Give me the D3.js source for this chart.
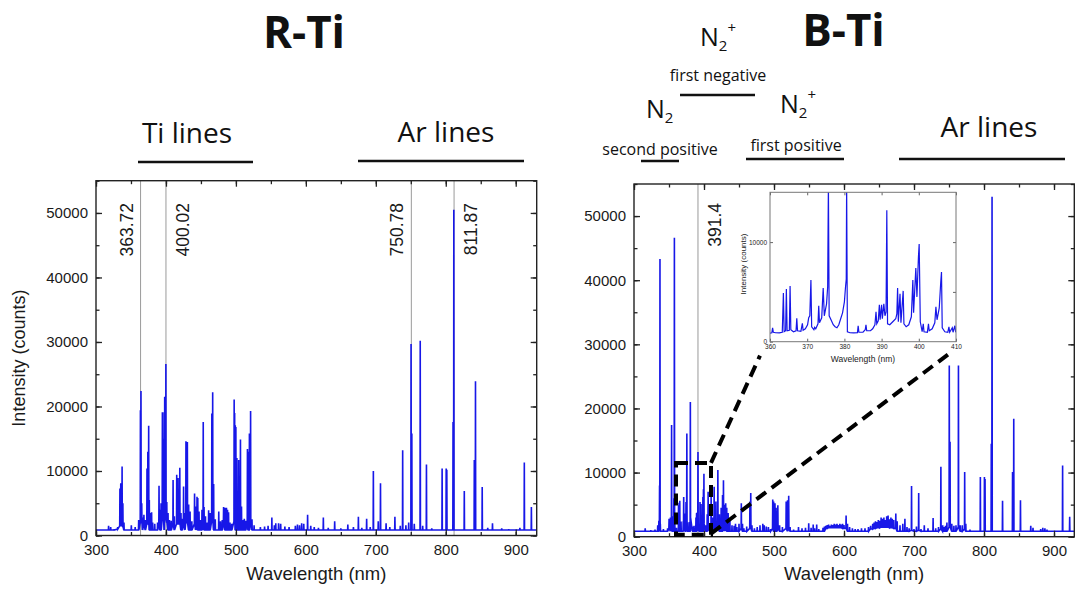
<!DOCTYPE html>
<html>
<head>
<meta charset="utf-8">
<script src="https://cdnjs.cloudflare.com/ajax/libs/d3/7.8.5/d3.min.js"></script>
<style>
  body { margin: 0; background: #fff; }
  svg text { font-family: "Liberation Sans", Arial, sans-serif; fill: #1a1a1a; }
  svg text.slide { font-family: "Open Sans", sans-serif; fill: #111; }
</style>
</head>
<body>
<svg id="chart" width="1076" height="592"></svg>
<script>
// ---- data ----
const baseLevel = 850;

// R-Ti spectrum: [wavelength nm, counts, optional local background]
const rtiPeaks = [
  [318, 1500], [321, 1300], [326, 1000], [331, 1300, 1000],
  [334.2, 7300, 1500], [335.4, 8100, 1500], [336.1, 7900, 1500], [337.3, 10700, 1500], [338.4, 5000, 1400], [340, 2000],
  [350.5, 1600], [356, 1300],
  [361, 2400], [363.5, 19400, 2000], [364.3, 22400, 2000], [365.4, 5000, 2000], [366.5, 2800], [368.5, 3200, 1800], [370.5, 2400],
  [372.9, 10400, 1800], [374.1, 13000, 1800], [375.3, 17000, 1800], [376.2, 5500], [378, 3500], [379.5, 3600], [381, 2000],
  [384, 1800], [388, 2000], [390.1, 7700, 2000], [391.5, 4000], [393, 5000], [394.9, 19100, 2500], [395.6, 19100, 2500],
  [396.4, 15000, 2500], [397.5, 9000], [398.2, 21500, 2500], [399.2, 12000, 2500], [399.9, 26600, 2500], [401.2, 5200, 2000],
  [403, 3500], [405, 2400], [407.5, 2300],
  [410.2, 8600, 1800], [412, 3000], [415.4, 9400, 1800], [417.3, 8900, 1800], [419.8, 10500, 1800], [421.5, 3500], [423, 2600],
  [425.2, 7600, 1800], [427, 3500], [428.6, 14600, 2000], [430.6, 14500, 2000], [432.5, 4800], [434.5, 3700], [437, 2200],
  [440.9, 6500, 1800], [442.5, 4500], [444.4, 6000, 1800], [445.5, 5800], [447.3, 3700], [449.5, 2400], [451.5, 4000],
  [453.3, 17600, 2200], [454.5, 4400], [456.5, 3000], [459, 2000], [461, 3900], [463, 3500],
  [465.6, 18900, 2200], [466.8, 22200, 2200], [468.2, 8000], [470.5, 2500], [475.5, 3700], [478, 2200], [480.5, 2400],
  [482.4, 4400, 2000], [484.5, 4300], [486.5, 4300], [488, 4000], [489.5, 3600], [491.5, 2000], [494, 1800],
  [497.5, 21100, 2200], [498.2, 19000, 2200], [499.1, 17100], [499.95, 16800], [501.4, 12000], [503.99, 11700], [505.0, 9000],
  [506.5, 14900], [508, 4500], [510.5, 2400], [512, 2600], [514, 2300], [516.5, 13400, 2200], [517.4, 13000], [519.3, 15800],
  [521.0, 19300, 2200], [523, 2500], [526, 1600],
  [535, 1300], [541, 1400], [546, 1500], [551.4, 2800], [555, 1600], [557, 1900], [561, 1900], [564, 1800], [570, 1400],
  [576, 1300], [585, 1500], [588, 1700], [591, 1600], [594, 1900], [597, 1800], [602.5, 3200], [607, 1500], [612, 1300],
  [618, 1200], [625, 2800], [632, 1200], [641.2, 2200], [650, 1100], [660, 1700], [668, 1300], [675.1, 2900], [680, 1200],
  [686.9, 2600], [692, 1300],
  [696.5, 10000], [703.5, 2200], [706.7, 8100], [714.7, 1900], [720, 1300], [727.3, 2900], [735, 1500], [738.4, 13200],
  [743, 1600], [747, 2000], [750.4, 29700], [751.5, 15800], [755, 1800], [763.5, 30200], [767, 1500], [772.4, 11000],
  [780, 1100], [794.8, 10400], [800.6, 10400], [801.5, 10200], [810.4, 17600], [811.5, 50500], [826.5, 6900],
  [840.8, 11700], [842.5, 23900], [852.1, 7500], [860, 1200], [866.8, 1900], [880, 1100], [890, 1000], [906, 1200],
  [912.3, 11300], [922.4, 4400]
];

// B-Ti spectrum
const btiPeaks = [
  [316, 1300], [324, 1000], [330, 1100], [333.9, 1800], [335.5, 2500], [336.5, 8000, 1500], [337.1, 43300, 1500], [337.6, 2000],
  [342, 1200], [348, 1300], [350.1, 2800, 1300], [352, 3000], [353.7, 17400, 1800], [354.3, 2500], [355.5, 3200],
  [356.9, 6000], [357.7, 46600, 2000], [358.3, 2000],
  [360.7, 1400], [363.6, 4900], [364.4, 5300], [365.4, 5600], [367.2, 2350], [370.3, 2400], [371.0, 6200, 1500],
  [373.1, 3600], [374.3, 5400], [375.5, 16100, 2500], [376.4, 2200], [379, 2300], [380.4, 6000], [380.5, 21000, 3000],
  [383.7, 1600], [385.8, 1700], [388.5, 3000], [389.4, 3700], [390, 3700], [390.6, 3800], [391.4, 13200, 2000], [393, 2000],
  [394.3, 5400], [394.9, 4800], [395.8, 5100], [398.4, 6200], [399.2, 7400], [399.9, 9800, 2000], [402.6, 1800],
  [404.6, 3500], [405.9, 7000, 1500], [408, 1500],
  [410.2, 6500, 1500], [412, 3000], [414.5, 7800, 1500], [417, 5500], [419.8, 10400, 1800], [422, 3500], [424.5, 4500],
  [426.5, 6500], [427.8, 8800, 2000], [429.5, 5000], [431, 5200, 1800], [432.5, 4500], [434.5, 3700], [437, 2500],
  [440, 1800], [443, 1700], [445, 2000], [447, 1500], [450, 2000], [453.3, 5200, 1300], [455, 2000], [457, 1300],
  [461, 1600], [465.6, 5500, 1300], [466.8, 6800, 1300], [468.5, 1800], [472, 1300], [476, 1500], [480, 1800],
  [484, 2000], [486, 1800], [489, 1600], [492, 1500], [495, 1200],
  [498.2, 5800, 1300], [499.5, 5500], [501.4, 5200], [503, 4500], [504, 4000], [505.5, 4900, 1300], [508, 1800],
  [512, 1500], [517.4, 5500, 1300], [519.3, 5700], [521, 6400, 1300], [523, 1500], [528, 1100],
  [535, 1500], [540, 1300], [545, 1400], [549.6, 2100], [553, 1400], [556, 1900], [558, 1300], [561, 1900], [564, 1200],
  [570, 1400], [572, 1600], [574, 1700, 1300], [576, 1800, 1300], [578, 1900, 1400], [580, 1700, 1400], [582, 1900, 1400],
  [584, 1800, 1400], [586, 2000, 1400], [588, 1900, 1400], [590, 2000, 1400], [592, 1800, 1400], [594, 2000, 1400],
  [596, 1900, 1400], [598, 2000, 1300], [600, 1800, 1300], [603, 3300, 1300], [605, 2000], [608, 1500], [612, 1300],
  [616, 1200], [620, 1200], [625, 1300], [630, 1300], [635, 1500], [638, 1700, 1200], [641, 2000, 1200], [643, 2200, 1300],
  [645, 2400, 1300], [647, 2300, 1400], [649, 2600, 1400], [651, 2500, 1400], [653, 3000, 1500], [655, 2800, 1500],
  [657, 3000, 1500], [659, 2600, 1500], [661, 3200, 1500], [663, 3300, 1500], [665, 2700, 1400], [667, 3000, 1400],
  [669, 2800, 1400], [671, 2600, 1300], [674, 3600, 1300], [676, 2400], [680, 1800], [684, 2000], [687, 2800],
  [690, 1500], [693, 1300],
  [696.5, 7900, 1000], [700, 1200], [703.5, 1600], [706.7, 6800, 1000], [710, 1200], [714.7, 1800], [720, 1300],
  [727.3, 2900], [731, 1300], [735, 1500], [738.4, 10900, 1200], [741, 1800], [743, 1500], [745, 1700], [747, 2200],
  [750.4, 26700, 1500], [751.5, 14800, 1500], [754, 2000], [757, 1700], [760, 1800], [763.5, 26700, 1500], [766, 1800],
  [769, 1800], [772.4, 10100, 1200], [774, 2000], [780, 1100],
  [794.8, 9300], [800.6, 9300], [801.5, 9000], [810.4, 14500], [811.5, 53000], [826.5, 5600], [840.8, 10100],
  [842.5, 18400], [852.1, 5700], [866.8, 1700], [870, 1400], [881, 1200], [884, 1400], [887, 1300], [890, 1100],
  [912.3, 11100], [922.4, 3100]
];

// zoomed 360-410 nm part of B-Ti (inset), traced as a polyline
const insetSpectrum = [
  [360, 850], [360.5, 900], [360.7, 1400], [360.9, 950], [361.5, 900], [362.5, 880], [363.3, 950], [363.6, 4900],
  [363.8, 1000], [364.2, 1100], [364.4, 5300], [364.6, 1100], [365.2, 1150], [365.4, 5600], [365.6, 1200], [366.3, 1000],
  [367, 1100], [367.2, 2350], [367.4, 1100], [368.3, 1050], [368.7, 1850], [368.9, 1150], [369.5, 1300], [370.1, 1700],
  [370.4, 2400], [370.7, 2600], [371.0, 6200], [371.2, 1500], [371.8, 1200], [372.0, 1450], [372.3, 1300], [372.9, 1800],
  [373.1, 3600], [373.3, 1900], [373.9, 2400], [374.3, 5400], [374.6, 2600], [375.2, 3800], [375.5, 5500], [375.7, 16000],
  [375.9, 2600], [376.4, 2200], [377, 1700], [377.5, 1500], [378, 1400], [378.5, 1700], [379, 2300], [379.5, 2900],
  [380, 4000], [380.3, 5500], [380.5, 6300], [380.6, 16000], [380.8, 1000], [381.5, 900], [382.5, 880], [383.5, 900],
  [383.7, 1600], [383.9, 950], [385, 950], [385.6, 1200], [385.8, 1700], [386, 1100], [387, 1100], [387.6, 1300],
  [388.2, 1700], [388.5, 3000], [388.7, 1800], [389.1, 2100], [389.4, 3700], [389.6, 2200], [390, 3700], [390.2, 2300],
  [390.6, 3800], [390.9, 2600], [391.2, 3000], [391.4, 13200], [391.6, 1800], [392.2, 1700], [393, 2000], [393.8, 2300],
  [394.1, 2800], [394.3, 5400], [394.5, 2000], [394.95, 4800], [395.2, 1900], [395.8, 5100], [396, 1800], [396.6, 1500],
  [397.3, 1700], [398, 2500], [398.4, 6200], [398.6, 2900], [399.2, 7400], [399.5, 4500], [399.9, 8500], [400.1, 9800],
  [400.4, 2000], [400.9, 1000], [401.2, 1800], [401.4, 1000], [402.3, 950], [402.6, 1800], [402.8, 1100], [403.6, 1300],
  [404.3, 1900], [404.6, 3500], [404.9, 2200], [405.5, 3400], [405.9, 6000], [406.1, 7000], [406.3, 1400], [407, 1000],
  [407.8, 950], [408.1, 1500], [408.3, 950], [409, 1400], [409.2, 950], [409.7, 1600], [409.9, 1000], [410, 950]
];

const rtiMarkers = [363.72, 400.02, 750.78, 811.87];
const rtiMarkerSide = [-1, 1, -1, 1];
const btiMarkers = [391.4];
const btiMarkerSide = [1];

const xTicks = [300, 400, 500, 600, 700, 800, 900];
const yTicks = [0, 10000, 20000, 30000, 40000, 50000];
const insetXTicks = [360, 370, 380, 390, 400, 410];
const insetYTicks = [0, 10000];
const zoomRange = [360, 410];
const zoomTop = 11500;

const blue = "#1717e8";
const svg = d3.select("#chart");
const fmt = d3.format("d");

function spikeLine(peaks, domain) {
  const pts = [[domain[0], baseLevel]];
  [...peaks].sort((a, b) => a[0] - b[0]).forEach(p => {
    const b = p[2] || baseLevel;
    pts.push([p[0] - 0.3, b], [p[0], p[1]], [p[0] + 0.3, b]);
  });
  pts.push([domain[1], baseLevel]);
  return pts;
}

function drawPanel(cfg) {
  const x = d3.scaleLinear().domain(cfg.xDomain).range([cfg.left, cfg.right]);
  const y = d3.scaleLinear().domain([0, 55000]).range([cfg.bottom, cfg.top]);
  const g = svg.append("g");

  g.append("clipPath").attr("id", cfg.id + "-clip")
    .append("rect").attr("x", cfg.left).attr("y", cfg.top)
    .attr("width", cfg.right - cfg.left).attr("height", cfg.bottom - cfg.top);

  // marker lines
  g.selectAll(".marker").data(cfg.markers).enter().append("line")
    .attr("x1", d => x(d)).attr("x2", d => x(d))
    .attr("y1", cfg.top).attr("y2", cfg.bottom)
    .attr("stroke", "#9a9a9a").attr("stroke-width", 1);

  const line = d3.line().x(d => x(d[0])).y(d => y(d[1]));
  g.append("path")
    .datum(spikeLine(cfg.peaks, cfg.xDomain))
    .attr("clip-path", `url(#${cfg.id}-clip)`)
    .attr("d", line)
    .attr("fill", "none").attr("stroke", blue).attr("stroke-width", 1.6);

  g.selectAll(".mlabel").data(cfg.markers).enter().append("text")
    .attr("transform", (d, i) => {
      const bx = cfg.sides[i] < 0 ? x(d) - 8 : x(d) + 23;
      return `translate(${bx},203) rotate(-90)`;
    })
    .attr("text-anchor", "end")
    .attr("font-size", 17.5)
    .text(d => d);

  // axes, ticks pointing inward on all four sides
  const minorX = d3.range(cfg.xDomain[0], cfg.xDomain[1], 50);
  const minorY = d3.range(0, 55001, 5000);
  const axes = [
    [d3.axisBottom(x).tickValues(xTicks).tickSize(-6).tickPadding(9).tickFormat(fmt), `translate(0,${cfg.bottom})`],
    [d3.axisBottom(x).tickValues(minorX).tickSize(-3.5).tickFormat(""), `translate(0,${cfg.bottom})`],
    [d3.axisTop(x).tickValues(xTicks).tickSize(-6).tickFormat(""), `translate(0,${cfg.top})`],
    [d3.axisTop(x).tickValues(minorX).tickSize(-3.5).tickFormat(""), `translate(0,${cfg.top})`],
    [d3.axisLeft(y).tickValues(yTicks).tickSize(-6).tickPadding(8).tickFormat(fmt), `translate(${cfg.left},0)`],
    [d3.axisLeft(y).tickValues(minorY).tickSize(-3.5).tickFormat(""), `translate(${cfg.left},0)`],
    [d3.axisRight(y).tickValues(yTicks).tickSize(-6).tickFormat(""), `translate(${cfg.right},0)`],
    [d3.axisRight(y).tickValues(minorY).tickSize(-3.5).tickFormat(""), `translate(${cfg.right},0)`]
  ];
  axes.forEach(([ax, tr]) => {
    const a = g.append("g").attr("transform", tr).call(ax);
    a.select(".domain").remove();
    a.selectAll(".tick line").attr("stroke", "#222").attr("stroke-width", 1.3);
    a.selectAll(".tick text").attr("font-size", 15).attr("fill", "#1a1a1a")
      .style("font-family", '"Liberation Sans", Arial, sans-serif');
  });

  g.append("rect")
    .attr("x", cfg.left).attr("y", cfg.top)
    .attr("width", cfg.right - cfg.left).attr("height", cfg.bottom - cfg.top)
    .attr("fill", "none").attr("stroke", "#222").attr("stroke-width", 1.4);

  g.append("text")
    .attr("x", (cfg.left + cfg.right) / 2).attr("y", 580)
    .attr("text-anchor", "middle").attr("font-size", 18.5)
    .text("Wavelength (nm)");

  if (cfg.yTitle) {
    g.append("text")
      .attr("transform", `translate(25,${(cfg.top + cfg.bottom) / 2}) rotate(-90)`)
      .attr("text-anchor", "middle").attr("font-size", 18)
      .text("Intensity (counts)");
  }
  return { x, y };
}

drawPanel({
  id: "rti", left: 96, right: 536.7, top: 180.7, bottom: 535.5,
  xDomain: [300, 930], peaks: rtiPeaks, markers: rtiMarkers, sides: rtiMarkerSide, yTitle: true
});

const bti = drawPanel({
  id: "bti", left: 634, right: 1074.3, top: 184, bottom: 536.7,
  xDomain: [300, 929], peaks: btiPeaks, markers: btiMarkers, sides: btiMarkerSide, yTitle: false
});

// ---- inset ----
const ix = d3.scaleLinear().domain([360, 410]).range([770, 956]);
const iy = d3.scaleLinear().domain([0, 15000]).range([341.7, 192.3]);
const inset = svg.append("g");
inset.append("rect").attr("x", 770).attr("y", 192.3).attr("width", 186).attr("height", 149.4)
  .attr("fill", "#fff");
inset.append("clipPath").attr("id", "inset-clip")
  .append("rect").attr("x", 770).attr("y", 192.3).attr("width", 186).attr("height", 149.4);
inset.append("path").datum(insetSpectrum)
  .attr("clip-path", "url(#inset-clip)")
  .attr("d", d3.line().x(d => ix(d[0])).y(d => iy(d[1])))
  .attr("fill", "none").attr("stroke", blue).attr("stroke-width", 1.2);

const insetAxes = [
  [d3.axisBottom(ix).tickValues(insetXTicks).tickSize(-3).tickPadding(3).tickFormat(fmt), "translate(0,341.7)"],
  [d3.axisTop(ix).tickValues(insetXTicks).tickSize(-3).tickFormat(""), "translate(0,192.3)"],
  [d3.axisLeft(iy).tickValues(insetYTicks).tickSize(-3).tickPadding(3).tickFormat(fmt), "translate(770,0)"],
  [d3.axisRight(iy).tickValues([5000, 10000]).tickSize(-3).tickFormat(""), "translate(956,0)"]
];
insetAxes.forEach(([ax, tr]) => {
  const a = inset.append("g").attr("transform", tr).call(ax);
  a.select(".domain").remove();
  a.selectAll(".tick line").attr("stroke", "#666");
  a.selectAll(".tick text").attr("font-size", 6.5).attr("fill", "#333")
    .style("font-family", '"Liberation Sans", Arial, sans-serif');
});
inset.append("rect").attr("x", 770).attr("y", 192.3).attr("width", 186).attr("height", 149.4)
  .attr("fill", "none").attr("stroke", "#777").attr("stroke-width", 1);
inset.append("text").attr("x", 863).attr("y", 362).attr("text-anchor", "middle")
  .attr("font-size", 8.5).attr("fill", "#333").text("Wavelength (nm)");
inset.append("text").attr("transform", "translate(746,264) rotate(-90)").attr("text-anchor", "middle")
  .attr("font-size", 8).attr("fill", "#333").text("Intensity (counts)");

// ---- dashed zoom guide ----
const dash = { stroke: "#000", "stroke-width": 4, "stroke-dasharray": "12 7", fill: "none" };
const zx0 = bti.x(zoomRange[0]), zx1 = bti.x(zoomRange[1]);
const zyT = bti.y(zoomTop), zyB = bti.y(0);
const guide = svg.append("g");
const addDash = sel => { Object.entries(dash).forEach(([k, v]) => sel.attr(k, v)); return sel; };
addDash(guide.append("rect").attr("x", zx0).attr("y", zyT).attr("width", zx1 - zx0).attr("height", zyB - zyT - 2));
addDash(guide.append("line").attr("x1", zx1).attr("y1", zyT).attr("x2", ix(360) - 10).attr("y2", iy(0) + 14));
addDash(guide.append("line").attr("x1", zx1).attr("y1", zyB - 3).attr("x2", ix(410) - 3).attr("y2", iy(0) + 9));

// ---- slide annotations ----
function slideText(x, y, size, txt, anchor, weight) {
  return svg.append("text").attr("class", "slide")
    .attr("x", x).attr("y", y).attr("font-size", size)
    .attr("text-anchor", anchor || "middle").attr("font-weight", weight || 400).text(txt);
}
function bar(x1, x2, yy) {
  svg.append("line").attr("x1", x1).attr("x2", x2).attr("y1", yy).attr("y2", yy)
    .attr("stroke", "#111").attr("stroke-width", 2.6);
}
function molecule(x, y, plus) {
  const t = svg.append("text").attr("class", "slide").attr("x", x).attr("y", y).attr("font-size", 25);
  t.append("tspan").text("N");
  t.append("tspan").attr("font-size", 15).attr("dy", 5).text("2");
  if (plus) t.append("tspan").attr("font-size", 15).attr("dy", -18).text("+");
}

slideText(304, 48, 44, "R-Ti", "middle", 700);
slideText(843.5, 46, 44, "B-Ti", "middle", 700);

slideText(187, 143, 28, "Ti lines");
bar(138, 253, 162);
slideText(446, 142, 28, "Ar lines");
bar(358, 524, 161);

slideText(989, 137, 28, "Ar lines");
bar(899, 1065, 159);

molecule(700, 46, true);
slideText(718, 81, 16, "first negative");
bar(680, 755, 95);

molecule(646, 118, false);
slideText(660, 155, 16, "second positive");
bar(641, 679, 161);

molecule(780, 113, true);
slideText(796, 151, 16, "first positive");
bar(746, 844, 159);
</script>
</body>
</html>
